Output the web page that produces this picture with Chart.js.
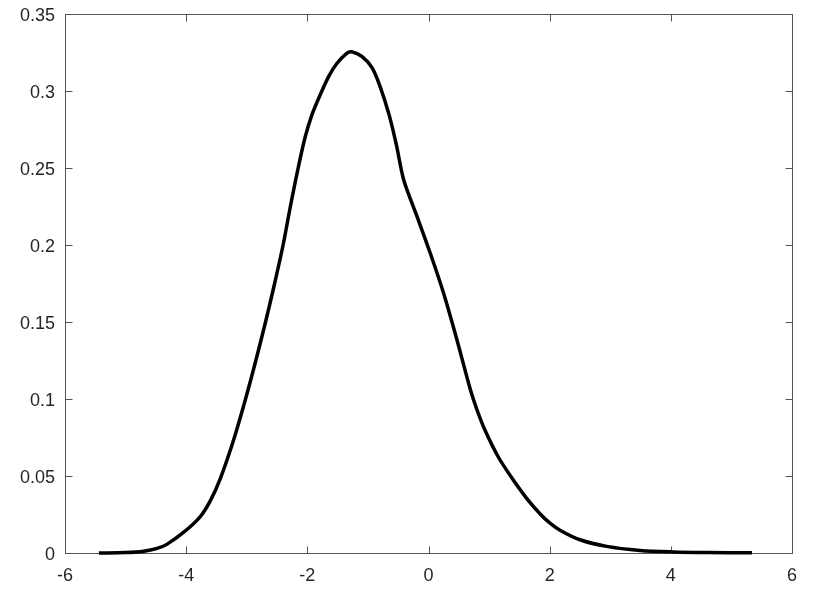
<!DOCTYPE html>
<html>
<head>
<meta charset="utf-8">
<script src="https://cdn.jsdelivr.net/npm/chart.js@4/dist/chart.umd.min.js"></script>
<style>
  html, body { margin:0; padding:0; background:#fff; }
  canvas { display:block; }
</style>
</head>
<body>
<canvas id="c" width="831" height="591"></canvas>
<script>
const xVals = [-5.44, -5.0, -4.7, -4.48, -4.32, -4.04, -3.77, -3.6, -3.43, -3.22, -3.02, -2.85, -2.69, -2.54, -2.40, -2.28, -2.165, -2.04, -1.92, -1.76, -1.64, -1.51, -1.35, -1.27, -1.10, -0.93, -0.80, -0.65, -0.53, -0.41, -0.19, 0.028, 0.248, 0.469, 0.688, 0.80, 0.935, 1.15, 1.38, 1.62, 1.84, 2.0, 2.17, 2.50, 2.94, 3.49, 4.04, 4.59, 5.34];
const yVals = [0, 0.0003, 0.0012, 0.003, 0.0056, 0.0135, 0.0235, 0.034, 0.049, 0.073, 0.1, 0.125, 0.15, 0.175, 0.2, 0.225, 0.2475, 0.2695, 0.285, 0.30, 0.31, 0.318, 0.3245, 0.3255, 0.3225, 0.315, 0.303, 0.2845, 0.265, 0.2424, 0.2186, 0.1948, 0.1688, 0.1385, 0.1065, 0.093, 0.0795, 0.0625, 0.0485, 0.0355, 0.0255, 0.0195, 0.0148, 0.0086, 0.0043, 0.0017, 0.0007, 0.0003, 0.0001];
const xTicks = [-6, -4, -2, 0, 2, 4, 6];
const yTicks = [0, 0.05, 0.1, 0.15, 0.2, 0.25, 0.3, 0.35];

const points = xVals.map((x, i) => ({x: x, y: yVals[i]}));

// matlab-ish box with inward ticks on all four sides
const boxPlugin = {
  id: 'box',
  beforeDatasetsDraw(chart) {
    const {ctx, chartArea: a, scales} = chart;
    const L = Math.round(a.left) + 0.5, R = Math.round(a.right) + 0.5;
    const T = Math.round(a.top) + 0.5, B = Math.round(a.bottom) + 0.5;
    const tl = 7;
    ctx.save();
    ctx.strokeStyle = '#555';
    ctx.lineWidth = 1;
    ctx.strokeRect(L, T, R - L, B - T);
    ctx.beginPath();
    xTicks.forEach(v => {
      const px = Math.round(scales.x.getPixelForValue(v)) + 0.5;
      ctx.moveTo(px, B); ctx.lineTo(px, B - tl);
      ctx.moveTo(px, T); ctx.lineTo(px, T + tl);
    });
    yTicks.forEach(v => {
      const py = Math.round(scales.y.getPixelForValue(v)) + 0.5;
      ctx.moveTo(L, py); ctx.lineTo(L + tl, py);
      ctx.moveTo(R, py); ctx.lineTo(R - tl, py);
    });
    ctx.stroke();
    ctx.restore();
  }
};

const tickFont = {family: '"Liberation Sans", Arial, sans-serif', size: 18};

new Chart(document.getElementById('c'), {
  type: 'line',
  data: {
    datasets: [{
      data: points,
      borderColor: '#000',
      borderWidth: 3.5,
      pointRadius: 0,
      tension: 0.3,
      fill: false,
      clip: 6
    }]
  },
  options: {
    responsive: false,
    animation: false,
    devicePixelRatio: 1,
    layout: {padding: {top: 14, right: 39, left: 0, bottom: 0}},
    plugins: {legend: {display: false}, tooltip: {enabled: false}},
    scales: {
      x: {
        type: 'linear', min: -6, max: 6,
        afterBuildTicks: s => { s.ticks = xTicks.map(v => ({value: v})); },
        afterFit: s => { s.height = 38; s.paddingLeft = 0; s.paddingRight = 0; },
        grid: {display: false, drawTicks: false},
        border: {display: false},
        ticks: {font: tickFont, color: '#262626', padding: 12, maxRotation: 0,
                callback: v => String(v)}
      },
      y: {
        type: 'linear', min: 0, max: 0.35,
        afterBuildTicks: s => { s.ticks = yTicks.map(v => ({value: v})); },
        afterFit: s => { s.width = 65; s.paddingTop = 0; s.paddingBottom = 0; },
        grid: {display: false, drawTicks: false},
        border: {display: false},
        ticks: {font: tickFont, color: '#262626', padding: 10, labelOffset: 2,
                callback: v => String(+v.toFixed(2))}
      }
    }
  },
  plugins: [boxPlugin]
});
</script>
</body>
</html>
